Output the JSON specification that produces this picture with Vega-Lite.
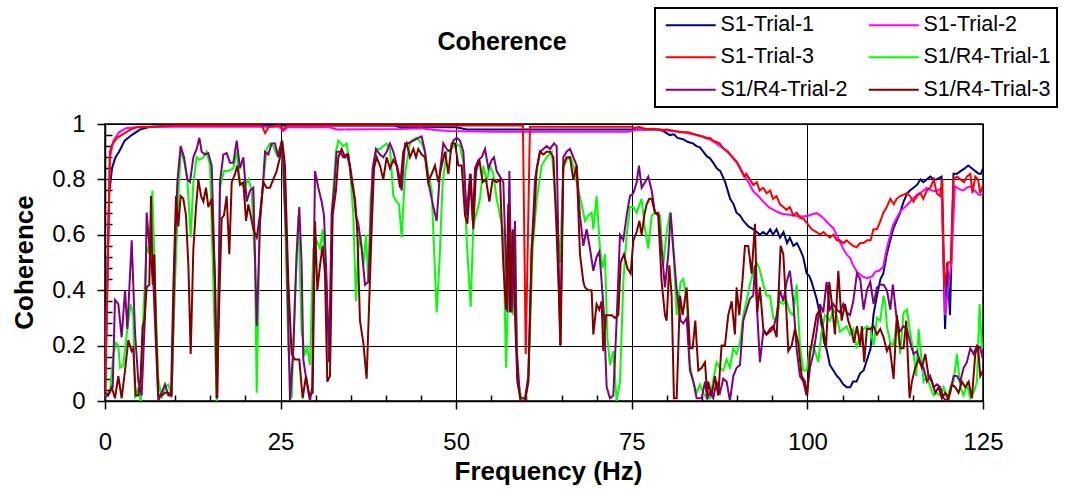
{
"$schema":"https://vega.github.io/schema/vega-lite/v6.json",
"width":878,"height":277,
"autosize":{"type":"none"},
"padding":{"left":105,"top":124,"right":83,"bottom":88},
"background":"white",
"title":{"text":"Coherence","font":"Liberation Sans","fontSize":25,"fontWeight":"bold","color":"black","anchor":"middle","frame":"group","dx":-42,"baseline":"alphabetic","offset":-68},
"config":{"view":{"stroke":"black","strokeWidth":1.5},"font":"Liberation Sans","legend":{"strokeWidth":2}},
"resolve":{"axis":{"x":"independent","y":"independent"}},
"layer":[
{"data":{"values":[{"f":0,"v":0.01},{"f":0.6,"v":0.75},{"f":1.0,"v":0.84},{"f":1.5,"v":0.88},{"f":2.0,"v":0.9},{"f":2.8,"v":0.94},{"f":3.8,"v":0.96},{"f":5,"v":0.98},{"f":6.4,"v":0.99},{"f":10,"v":0.993},{"f":20,"v":0.995},{"f":30,"v":0.995},{"f":41,"v":0.995},{"f":42,"v":0.988},{"f":50,"v":0.988},{"f":51.5,"v":0.98},{"f":60,"v":0.98},{"f":70,"v":0.98},{"f":79,"v":0.98},{"f":79.8,"v":0.97},{"f":80.4,"v":0.96},{"f":81,"v":0.963},{"f":81.5,"v":0.95},{"f":82.3,"v":0.945},{"f":83,"v":0.935},{"f":83.7,"v":0.93},{"f":84.2,"v":0.92},{"f":84.7,"v":0.916},{"f":85.7,"v":0.883},{"f":86.1,"v":0.877},{"f":86.6,"v":0.86},{"f":87.1,"v":0.84},{"f":87.6,"v":0.83},{"f":88.3,"v":0.79},{"f":89.0,"v":0.73},{"f":89.5,"v":0.71},{"f":89.9,"v":0.68},{"f":90.4,"v":0.67},{"f":90.9,"v":0.65},{"f":91.6,"v":0.63},{"f":92.3,"v":0.62},{"f":92.8,"v":0.61},{"f":93.2,"v":0.6},{"f":93.7,"v":0.61},{"f":94.2,"v":0.6},{"f":94.7,"v":0.62},{"f":95.1,"v":0.6},{"f":95.6,"v":0.62},{"f":96.1,"v":0.59},{"f":96.6,"v":0.61},{"f":97.1,"v":0.57},{"f":97.5,"v":0.59},{"f":98.0,"v":0.56},{"f":98.5,"v":0.57},{"f":98.9,"v":0.55},{"f":99.4,"v":0.52},{"f":99.9,"v":0.46},{"f":100.3,"v":0.45},{"f":100.6,"v":0.43},{"f":101.3,"v":0.37},{"f":101.8,"v":0.31},{"f":102.4,"v":0.21},{"f":102.7,"v":0.19},{"f":103.2,"v":0.13},{"f":103.7,"v":0.11},{"f":104.2,"v":0.09},{"f":104.6,"v":0.08},{"f":105.1,"v":0.06},{"f":105.6,"v":0.05},{"f":106.1,"v":0.05},{"f":106.5,"v":0.07},{"f":107.0,"v":0.07},{"f":107.5,"v":0.1},{"f":108.0,"v":0.11},{"f":108.5,"v":0.15},{"f":109.0,"v":0.19},{"f":109.4,"v":0.31},{"f":109.9,"v":0.38},{"f":110.4,"v":0.44},{"f":110.8,"v":0.46},{"f":111.3,"v":0.53},{"f":111.8,"v":0.58},{"f":112.2,"v":0.62},{"f":112.7,"v":0.65},{"f":113.2,"v":0.68},{"f":113.7,"v":0.72},{"f":114.2,"v":0.75},{"f":114.6,"v":0.76},{"f":115.1,"v":0.77},{"f":115.6,"v":0.78},{"f":116.1,"v":0.8},{"f":116.5,"v":0.79},{"f":117.0,"v":0.8},{"f":117.5,"v":0.81},{"f":118.0,"v":0.8},{"f":118.4,"v":0.8},{"f":119.1,"v":0.81},{"f":119.6,"v":0.26},{"f":119.9,"v":0.5},{"f":120.3,"v":0.31},{"f":120.8,"v":0.82},{"f":121.3,"v":0.82},{"f":121.8,"v":0.83},{"f":122.4,"v":0.84},{"f":122.9,"v":0.85},{"f":123.4,"v":0.84},{"f":123.9,"v":0.83},{"f":124.4,"v":0.82},{"f":124.7,"v":0.82},{"f":125,"v":0.84}]},
 "mark":{"type":"line","strokeWidth":2,"clip":true},
 "encoding":{
  "x":{"field":"f","type":"quantitative","scale":{"domain":[0,125],"nice":false,"zero":false},
   "axis":{"orient":"bottom","values":[0,25,50,75,100,125],"tickSize":8,"tickColor":"black","tickWidth":1.5,"domainColor":"black","domainWidth":1.5,"grid":true,"gridColor":"black","gridWidth":1,"gridOpacity":1,"labelFont":"Liberation Sans","labelFontSize":24,"labelColor":"black","labelPadding":21,"labelFlush":false,"labelOverlap":false,"title":"Frequency (Hz)","titleFont":"Liberation Sans","titleFontSize":26,"titleFontWeight":"bold","titleColor":"black","titleX":443,"titleY":78,"titleAlign":"center","titleBaseline":"alphabetic"}},
  "y":{"field":"v","type":"quantitative","scale":{"domain":[0,1],"nice":false},
   "axis":{"orient":"left","values":[0,0.2,0.4,0.6,0.8,1],"format":"~g","tickSize":8,"tickColor":"black","tickWidth":1.5,"domainColor":"black","domainWidth":1.5,"grid":true,"gridColor":"black","gridWidth":1,"gridOpacity":1,"labelFont":"Liberation Sans","labelFontSize":24,"labelColor":"black","labelPadding":12,"labelOverlap":false,"title":"Coherence","titleFont":"Liberation Sans","titleFontSize":26,"titleFontWeight":"bold","titleColor":"black","titleX":-73,"titleY":138,"titleAngle":-90,"titleAlign":"center","titleBaseline":"alphabetic"}},
  "color":{"datum":"S1-Trial-1","type":"nominal",
   "scale":{"domain":["S1-Trial-1","S1-Trial-2","S1-Trial-3","S1/R4-Trial-1","S1/R4-Trial-2","S1/R4-Trial-3"],"range":["#000080","#FF00FF","#FF0000","#00FF00","#800080","#800000"]},
   "legend":{"orient":"none","direction":"horizontal","legendX":550,"legendY":-116,"columns":2,"columnPadding":16,"rowPadding":9.5,"padding":6,"strokeColor":"black","fillColor":"white","cornerRadius":0,"symbolType":"M-1,0H9","symbolSize":100,"symbolStrokeWidth":2,"symbolOffset":-1,"labelFont":"Liberation Sans","labelFontSize":21.5,"labelColor":"black","labelOffset":39,"labelLimit":300,"title":null}}
 }},
{"data":{"values":[{"f":0,"v":0.02},{"f":0.7,"v":0.88},{"f":1.2,"v":0.94},{"f":2,"v":0.97},{"f":3,"v":0.985},{"f":5,"v":0.99},{"f":20,"v":0.99},{"f":24.8,"v":0.99},{"f":25.4,"v":0.975},{"f":26,"v":0.988},{"f":32,"v":0.988},{"f":33,"v":0.98},{"f":42,"v":0.982},{"f":45,"v":0.985},{"f":47,"v":0.978},{"f":49,"v":0.975},{"f":55,"v":0.972},{"f":65,"v":0.972},{"f":74.5,"v":0.972},{"f":75.7,"v":0.98},{"f":79,"v":0.98},{"f":81,"v":0.975},{"f":82.3,"v":0.97},{"f":84,"v":0.962},{"f":85.2,"v":0.955},{"f":86.1,"v":0.945},{"f":87,"v":0.93},{"f":88,"v":0.913},{"f":89,"v":0.89},{"f":89.9,"v":0.865},{"f":90.9,"v":0.82},{"f":91.6,"v":0.79},{"f":92.3,"v":0.757},{"f":93,"v":0.74},{"f":93.7,"v":0.72},{"f":94.5,"v":0.7},{"f":95.6,"v":0.684},{"f":96.5,"v":0.675},{"f":97.5,"v":0.672},{"f":98.5,"v":0.668},{"f":99.4,"v":0.666},{"f":100.2,"v":0.67},{"f":100.8,"v":0.675},{"f":101.3,"v":0.678},{"f":101.8,"v":0.67},{"f":102.3,"v":0.66},{"f":103,"v":0.64},{"f":103.7,"v":0.624},{"f":104.6,"v":0.576},{"f":105.1,"v":0.55},{"f":105.6,"v":0.528},{"f":106.1,"v":0.516},{"f":106.5,"v":0.49},{"f":107.05,"v":0.467},{"f":107.8,"v":0.45},{"f":108.5,"v":0.443},{"f":109.2,"v":0.45},{"f":109.7,"v":0.467},{"f":110.2,"v":0.47},{"f":110.8,"v":0.485},{"f":111.3,"v":0.552},{"f":111.8,"v":0.6},{"f":112.2,"v":0.636},{"f":112.7,"v":0.66},{"f":113.2,"v":0.684},{"f":114.2,"v":0.708},{"f":115.0,"v":0.73},{"f":115.6,"v":0.745},{"f":116.3,"v":0.755},{"f":117.0,"v":0.769},{"f":117.7,"v":0.76},{"f":118.4,"v":0.757},{"f":119.1,"v":0.769},{"f":119.6,"v":0.311},{"f":120.1,"v":0.42},{"f":120.5,"v":0.5},{"f":121.0,"v":0.775},{"f":121.6,"v":0.765},{"f":122.2,"v":0.76},{"f":122.7,"v":0.77},{"f":123.2,"v":0.775},{"f":123.8,"v":0.76},{"f":124.4,"v":0.745},{"f":125,"v":0.745}]},
 "mark":{"type":"line","strokeWidth":2,"clip":true},
 "encoding":{
  "x":{"field":"f","type":"quantitative","axis":{"orient":"bottom","values":[5,10,15,20,30,35,40,45,55,60,65,70,80,85,90,95,105,110,115,120],"tickSize":-6,"tickColor":"black","tickWidth":1.5,"labels":false,"domain":false,"grid":false,"title":null}},
  "y":{"field":"v","type":"quantitative","axis":{"orient":"left","values":[0.04,0.08,0.12,0.16,0.24,0.28,0.32,0.36,0.44,0.48,0.52,0.56,0.64,0.68,0.72,0.76,0.84,0.88,0.92,0.96],"tickSize":-7,"tickColor":"black","tickWidth":1.5,"labels":false,"domain":false,"grid":false,"title":null}},
  "color":{"datum":"S1-Trial-2","type":"nominal"}
 }},
{"data":{"values":[{"f":0,"v":0.01},{"f":0.7,"v":0.9},{"f":1.0,"v":0.925},{"f":1.7,"v":0.95},{"f":2.8,"v":0.967},{"f":3.6,"v":0.98},{"f":4.5,"v":0.988},{"f":6.9,"v":0.99},{"f":10,"v":0.995},{"f":22.3,"v":0.995},{"f":22.8,"v":0.967},{"f":23.3,"v":0.99},{"f":24.9,"v":0.995},{"f":25.4,"v":0.98},{"f":25.9,"v":0.995},{"f":59.5,"v":0.995},{"f":59.9,"v":0.17},{"f":60.5,"v":0.99},{"f":75,"v":0.99},{"f":75.5,"v":0.985},{"f":76,"v":0.99},{"f":77,"v":0.982},{"f":78,"v":0.983},{"f":79,"v":0.978},{"f":80,"v":0.98},{"f":81,"v":0.975},{"f":82,"v":0.97},{"f":83,"v":0.97},{"f":84,"v":0.962},{"f":85,"v":0.955},{"f":85.7,"v":0.947},{"f":86.1,"v":0.95},{"f":86.6,"v":0.94},{"f":87.5,"v":0.93},{"f":88,"v":0.913},{"f":88.7,"v":0.9},{"f":89.4,"v":0.877},{"f":90.0,"v":0.86},{"f":90.4,"v":0.84},{"f":91.0,"v":0.81},{"f":91.3,"v":0.82},{"f":91.8,"v":0.8},{"f":92.3,"v":0.78},{"f":92.8,"v":0.79},{"f":93.2,"v":0.76},{"f":93.7,"v":0.77},{"f":94.2,"v":0.75},{"f":94.7,"v":0.76},{"f":95.1,"v":0.73},{"f":95.6,"v":0.74},{"f":96.1,"v":0.71},{"f":96.6,"v":0.7},{"f":97.0,"v":0.69},{"f":97.5,"v":0.7},{"f":98.0,"v":0.67},{"f":98.5,"v":0.68},{"f":99.0,"v":0.66},{"f":99.4,"v":0.66},{"f":100.0,"v":0.64},{"f":100.6,"v":0.62},{"f":101.3,"v":0.61},{"f":101.8,"v":0.6},{"f":102.3,"v":0.61},{"f":102.7,"v":0.6},{"f":103.2,"v":0.59},{"f":103.7,"v":0.6},{"f":104.2,"v":0.58},{"f":104.6,"v":0.58},{"f":105.1,"v":0.57},{"f":105.6,"v":0.58},{"f":106.0,"v":0.57},{"f":106.5,"v":0.56},{"f":107.0,"v":0.555},{"f":107.5,"v":0.57},{"f":108.0,"v":0.57},{"f":108.5,"v":0.58},{"f":109.0,"v":0.58},{"f":109.4,"v":0.62},{"f":109.9,"v":0.62},{"f":110.4,"v":0.65},{"f":110.8,"v":0.68},{"f":111.3,"v":0.7},{"f":111.8,"v":0.73},{"f":112.3,"v":0.71},{"f":112.7,"v":0.73},{"f":113.2,"v":0.74},{"f":113.7,"v":0.745},{"f":114.2,"v":0.75},{"f":114.6,"v":0.74},{"f":115.1,"v":0.72},{"f":115.6,"v":0.74},{"f":116.1,"v":0.75},{"f":116.5,"v":0.73},{"f":117.0,"v":0.76},{"f":117.5,"v":0.77},{"f":118.0,"v":0.8},{"f":118.4,"v":0.75},{"f":118.9,"v":0.74},{"f":119.2,"v":0.8},{"f":119.5,"v":0.41},{"f":120.0,"v":0.5},{"f":120.4,"v":0.5},{"f":120.8,"v":0.8},{"f":121.3,"v":0.81},{"f":121.8,"v":0.8},{"f":122.3,"v":0.79},{"f":122.7,"v":0.81},{"f":123.2,"v":0.82},{"f":123.5,"v":0.75},{"f":123.9,"v":0.81},{"f":124.3,"v":0.8},{"f":124.6,"v":0.75},{"f":125,"v":0.78}]},
 "mark":{"type":"line","strokeWidth":2,"clip":true},
 "encoding":{"x":{"field":"f","type":"quantitative","axis":null},"y":{"field":"v","type":"quantitative","axis":null},"color":{"datum":"S1-Trial-3","type":"nominal"}}},
{"data":{"values":[{"f":0,"v":0.02},{"f":0.71,"v":0.03},{"f":1.19,"v":0.17},{"f":1.57,"v":0.21},{"f":1.9,"v":0.2},{"f":2.14,"v":0.12},{"f":2.61,"v":0.13},{"f":3.08,"v":0.24},{"f":3.65,"v":0.35},{"f":4.03,"v":0.31},{"f":4.27,"v":0.01},{"f":4.75,"v":0.05},{"f":5.08,"v":0},{"f":5.46,"v":0.31},{"f":5.93,"v":0.56},{"f":6.31,"v":0.53},{"f":6.74,"v":0.76},{"f":7.12,"v":0.43},{"f":7.59,"v":0.08},{"f":8.07,"v":0.01},{"f":8.54,"v":0.05},{"f":9.02,"v":0.06},{"f":9.49,"v":0.02},{"f":9.97,"v":0.43},{"f":10.44,"v":0.74},{"f":10.77,"v":0.9},{"f":11.25,"v":0.87},{"f":11.72,"v":0.8},{"f":12.2,"v":0.59},{"f":12.58,"v":0.79},{"f":13.05,"v":0.88},{"f":13.43,"v":0.87},{"f":14.0,"v":0.88},{"f":14.48,"v":0.9},{"f":14.95,"v":0.85},{"f":15.42,"v":0.43},{"f":15.9,"v":0},{"f":16.37,"v":0.77},{"f":16.94,"v":0.83},{"f":17.56,"v":0.83},{"f":18.27,"v":0.84},{"f":18.75,"v":0.9},{"f":19.22,"v":0.79},{"f":19.79,"v":0.77},{"f":20.41,"v":0.8},{"f":20.88,"v":0.76},{"f":21.36,"v":0.49},{"f":21.6,"v":0.03},{"f":22.06,"v":0.67},{"f":22.54,"v":0.79},{"f":23.01,"v":0.91},{"f":23.49,"v":0.93},{"f":23.96,"v":0.92},{"f":24.44,"v":0.89},{"f":25.15,"v":0.93},{"f":25.62,"v":0.67},{"f":26.1,"v":0.19},{"f":26.57,"v":0.01},{"f":27.05,"v":0.37},{"f":27.52,"v":0.67},{"f":27.99,"v":0.25},{"f":28.47,"v":0.17},{"f":28.8,"v":0.19},{"f":29.18,"v":0.13},{"f":29.66,"v":0.55},{"f":30.13,"v":0.58},{"f":30.61,"v":0.55},{"f":30.99,"v":0.62},{"f":31.46,"v":0.43},{"f":31.94,"v":0.19},{"f":32.41,"v":0.73},{"f":32.88,"v":0.9},{"f":33.22,"v":0.94},{"f":33.93,"v":0.92},{"f":34.4,"v":0.93},{"f":34.88,"v":0.84},{"f":35.35,"v":0.67},{"f":35.73,"v":0.36},{"f":36.06,"v":0.55},{"f":36.4,"v":0.6},{"f":36.78,"v":0.49},{"f":37.16,"v":0.6},{"f":37.49,"v":0.43},{"f":37.82,"v":0.73},{"f":38.2,"v":0.83},{"f":38.67,"v":0.91},{"f":39.15,"v":0.91},{"f":39.62,"v":0.92},{"f":40.1,"v":0.93},{"f":40.57,"v":0.91},{"f":41.05,"v":0.74},{"f":41.52,"v":0.72},{"f":41.86,"v":0.71},{"f":42.24,"v":0.59},{"f":42.71,"v":0.82},{"f":43.42,"v":0.93},{"f":43.66,"v":0.94},{"f":44.37,"v":0.95},{"f":45.08,"v":0.93},{"f":45.56,"v":0.9},{"f":46.03,"v":0.82},{"f":46.51,"v":0.76},{"f":46.84,"v":0.55},{"f":47.22,"v":0.32},{"f":47.6,"v":0.49},{"f":48.07,"v":0.79},{"f":48.64,"v":0.9},{"f":49.36,"v":0.91},{"f":49.97,"v":0.93},{"f":50.54,"v":0.92},{"f":51.11,"v":0.85},{"f":51.49,"v":0.58},{"f":52.06,"v":0.34},{"f":52.44,"v":0.64},{"f":52.92,"v":0.68},{"f":53.39,"v":0.73},{"f":53.87,"v":0.85},{"f":54.34,"v":0.79},{"f":54.81,"v":0.85},{"f":55.29,"v":0.82},{"f":55.76,"v":0.73},{"f":56.24,"v":0.67},{"f":56.71,"v":0.61},{"f":57.09,"v":0.12},{"f":57.42,"v":0.43},{"f":57.76,"v":0.61},{"f":58.04,"v":0.31},{"f":58.37,"v":0.58},{"f":58.71,"v":0.09},{"f":59.18,"v":0.02},{"f":59.8,"v":0},{"f":60.27,"v":0.07},{"f":60.89,"v":0.55},{"f":61.46,"v":0.73},{"f":62.17,"v":0.85},{"f":62.88,"v":0.88},{"f":63.6,"v":0.9},{"f":63.83,"v":0.83},{"f":64.3,"v":0.67},{"f":64.77,"v":0.5},{"f":65.25,"v":0.84},{"f":65.72,"v":0.87},{"f":66.29,"v":0.88},{"f":66.77,"v":0.84},{"f":67.38,"v":0.76},{"f":67.86,"v":0.71},{"f":68.33,"v":0.65},{"f":68.81,"v":0.67},{"f":69.28,"v":0.68},{"f":69.52,"v":0.62},{"f":69.99,"v":0.74},{"f":70.47,"v":0.55},{"f":70.85,"v":0.48},{"f":71.18,"v":0.53},{"f":71.51,"v":0.23},{"f":71.89,"v":0.13},{"f":72.37,"v":0.18},{"f":72.84,"v":0},{"f":73.32,"v":0.07},{"f":73.79,"v":0.43},{"f":74.27,"v":0.6},{"f":74.74,"v":0.7},{"f":75.22,"v":0.7},{"f":75.69,"v":0.68},{"f":76.4,"v":0.73},{"f":76.88,"v":0.62},{"f":77.35,"v":0.55},{"f":77.83,"v":0.67},{"f":78.44,"v":0.68},{"f":79.01,"v":0.67},{"f":79.49,"v":0.49},{"f":79.96,"v":0.61},{"f":80.44,"v":0.68},{"f":80.91,"v":0.55},{"f":81.39,"v":0.31},{"f":81.95,"v":0.43},{"f":82.33,"v":0.44},{"f":82.81,"v":0.36},{"f":83.28,"v":0.13},{"f":83.76,"v":0.07},{"f":84.23,"v":0.03},{"f":84.71,"v":0.06},{"f":85.18,"v":0.03},{"f":85.66,"v":0.01},{"f":86.12,"v":0.01},{"f":87.07,"v":0.14},{"f":87.55,"v":0.12},{"f":88.02,"v":0.11},{"f":88.5,"v":0.15},{"f":88.97,"v":0.12},{"f":89.45,"v":0.19},{"f":89.92,"v":0.17},{"f":90.4,"v":0.21},{"f":90.87,"v":0.31},{"f":91.34,"v":0.36},{"f":91.72,"v":0.41},{"f":92.29,"v":0.47},{"f":92.77,"v":0.5},{"f":93.15,"v":0.48},{"f":93.72,"v":0.42},{"f":94.19,"v":0.38},{"f":94.67,"v":0.38},{"f":95.14,"v":0.3},{"f":95.62,"v":0.29},{"f":96.09,"v":0.36},{"f":96.57,"v":0.35},{"f":97.04,"v":0.36},{"f":97.51,"v":0.32},{"f":97.99,"v":0.31},{"f":98.46,"v":0.42},{"f":98.94,"v":0.2},{"f":99.41,"v":0.11},{"f":99.89,"v":0.11},{"f":100.36,"v":0.19},{"f":100.84,"v":0.2},{"f":101.55,"v":0.14},{"f":102.02,"v":0.25},{"f":102.5,"v":0.31},{"f":103.21,"v":0.29},{"f":103.68,"v":0.33},{"f":104.16,"v":0.31},{"f":104.63,"v":0.25},{"f":105.11,"v":0.26},{"f":105.58,"v":0.27},{"f":106.06,"v":0.24},{"f":106.53,"v":0.26},{"f":107.01,"v":0.19},{"f":107.52,"v":0.24},{"f":108.0,"v":0.26},{"f":108.47,"v":0.27},{"f":108.95,"v":0.26},{"f":109.42,"v":0.2},{"f":109.9,"v":0.3},{"f":110.37,"v":0.29},{"f":110.85,"v":0.38},{"f":111.08,"v":0.35},{"f":111.32,"v":0.27},{"f":111.8,"v":0.21},{"f":112.27,"v":0.2},{"f":112.74,"v":0.29},{"f":113.22,"v":0.17},{"f":113.69,"v":0.32},{"f":114.17,"v":0.33},{"f":114.55,"v":0.26},{"f":115.02,"v":0.19},{"f":115.5,"v":0.09},{"f":115.83,"v":0.26},{"f":116.16,"v":0.17},{"f":116.54,"v":0.07},{"f":117.02,"v":0.09},{"f":117.49,"v":0.05},{"f":117.97,"v":0.02},{"f":118.44,"v":0.03},{"f":118.91,"v":0.02},{"f":119.39,"v":0.05},{"f":119.86,"v":0.01},{"f":120.34,"v":0.05},{"f":120.81,"v":0.07},{"f":121.29,"v":0.17},{"f":121.76,"v":0.05},{"f":122.24,"v":0.02},{"f":122.71,"v":0.06},{"f":123.19,"v":0.01},{"f":123.66,"v":0.03},{"f":124.14,"v":0.07},{"f":124.51,"v":0.35},{"f":124.85,"v":0.19},{"f":125,"v":0.21}]},
 "mark":{"type":"line","strokeWidth":2,"clip":true},
 "encoding":{"x":{"field":"f","type":"quantitative","axis":null},"y":{"field":"v","type":"quantitative","axis":null},"color":{"datum":"S1/R4-Trial-1","type":"nominal"}}},
{"data":{"values":[{"f":0,"v":0.01},{"f":1.1,"v":0.05},{"f":1.42,"v":0.365},{"f":1.9,"v":0.35},{"f":2.37,"v":0.23},{"f":2.85,"v":0.4},{"f":3.18,"v":0.26},{"f":3.8,"v":0.58},{"f":4.27,"v":0.25},{"f":4.75,"v":0.07},{"f":5.22,"v":0.02},{"f":5.7,"v":0.31},{"f":5.93,"v":0.68},{"f":6.41,"v":0.53},{"f":6.88,"v":0.43},{"f":7.59,"v":0},{"f":8.07,"v":0.03},{"f":8.54,"v":0.06},{"f":9.02,"v":0.02},{"f":9.49,"v":0.02},{"f":9.97,"v":0.55},{"f":10.3,"v":0.79},{"f":10.77,"v":0.92},{"f":11.25,"v":0.88},{"f":11.72,"v":0.8},{"f":12.1,"v":0.79},{"f":12.58,"v":0.88},{"f":13.05,"v":0.91},{"f":13.43,"v":0.95},{"f":13.76,"v":0.9},{"f":14.24,"v":0.89},{"f":14.71,"v":0.895},{"f":15.19,"v":0.85},{"f":15.66,"v":0.43},{"f":16.0,"v":0.01},{"f":16.37,"v":0.79},{"f":16.85,"v":0.89},{"f":17.32,"v":0.895},{"f":17.8,"v":0.86},{"f":18.27,"v":0.86},{"f":18.75,"v":0.94},{"f":19.22,"v":0.84},{"f":19.7,"v":0.88},{"f":20.17,"v":0.72},{"f":20.65,"v":0.76},{"f":21.12,"v":0.77},{"f":21.6,"v":0.27},{"f":22.06,"v":0.64},{"f":22.54,"v":0.8},{"f":22.78,"v":0.9},{"f":23.25,"v":0.89},{"f":23.72,"v":0.93},{"f":24.2,"v":0.93},{"f":24.67,"v":0.88},{"f":25.15,"v":0.94},{"f":25.39,"v":0.85},{"f":25.86,"v":0.55},{"f":26.34,"v":0},{"f":26.81,"v":0.19},{"f":27.28,"v":0.53},{"f":27.66,"v":0.7},{"f":28.0,"v":0.49},{"f":28.23,"v":0.15},{"f":28.71,"v":0.07},{"f":29.18,"v":0},{"f":29.5,"v":0.05},{"f":29.9,"v":0.83},{"f":30.37,"v":0.77},{"f":30.84,"v":0.72},{"f":31.18,"v":0.67},{"f":31.56,"v":0.43},{"f":31.89,"v":0.14},{"f":32.27,"v":0.68},{"f":32.6,"v":0.76},{"f":32.98,"v":0.9},{"f":33.45,"v":0.9},{"f":33.93,"v":0.88},{"f":34.4,"v":0.89},{"f":34.88,"v":0.85},{"f":35.35,"v":0.77},{"f":35.73,"v":0.67},{"f":36.06,"v":0.64},{"f":36.54,"v":0.55},{"f":37.01,"v":0.42},{"f":37.49,"v":0.43},{"f":37.73,"v":0.58},{"f":38.1,"v":0.84},{"f":38.58,"v":0.91},{"f":39.15,"v":0.89},{"f":39.62,"v":0.88},{"f":40.1,"v":0.9},{"f":40.57,"v":0.93},{"f":41.05,"v":0.9},{"f":41.76,"v":0.83},{"f":42.24,"v":0.76},{"f":42.71,"v":0.93},{"f":43.19,"v":0.93},{"f":43.9,"v":0.94},{"f":44.61,"v":0.95},{"f":45.08,"v":0.955},{"f":45.56,"v":0.9},{"f":46.03,"v":0.79},{"f":46.75,"v":0.7},{"f":47.22,"v":0.65},{"f":47.7,"v":0.83},{"f":48.17,"v":0.93},{"f":48.64,"v":0.91},{"f":49.12,"v":0.9},{"f":49.59,"v":0.94},{"f":50.07,"v":0.95},{"f":50.54,"v":0.94},{"f":51.02,"v":0.9},{"f":51.49,"v":0.67},{"f":51.97,"v":0.82},{"f":52.35,"v":0.65},{"f":52.68,"v":0.84},{"f":53.15,"v":0.87},{"f":53.63,"v":0.88},{"f":54.1,"v":0.91},{"f":54.58,"v":0.84},{"f":55.05,"v":0.87},{"f":55.38,"v":0.88},{"f":55.76,"v":0.83},{"f":56.24,"v":0.81},{"f":56.71,"v":0.79},{"f":57.09,"v":0.49},{"f":57.28,"v":0.32},{"f":57.57,"v":0.83},{"f":57.9,"v":0.32},{"f":58.37,"v":0.65},{"f":58.61,"v":0.19},{"f":59.09,"v":0.01},{"f":59.8,"v":0.01},{"f":60.27,"v":0.09},{"f":60.75,"v":0.55},{"f":61.22,"v":0.8},{"f":61.93,"v":0.9},{"f":62.41,"v":0.91},{"f":62.88,"v":0.92},{"f":63.36,"v":0.91},{"f":63.93,"v":0.93},{"f":64.3,"v":0.92},{"f":64.8,"v":0.2},{"f":65.25,"v":0.88},{"f":65.72,"v":0.9},{"f":66.2,"v":0.91},{"f":66.67,"v":0.88},{"f":67.15,"v":0.85},{"f":67.62,"v":0.67},{"f":68.1,"v":0.56},{"f":68.57,"v":0.62},{"f":69.05,"v":0.55},{"f":69.52,"v":0.47},{"f":69.99,"v":0.52},{"f":70.37,"v":0.54},{"f":70.71,"v":0.43},{"f":71.04,"v":0.31},{"f":71.42,"v":0.05},{"f":71.89,"v":0.01},{"f":72.37,"v":0.02},{"f":72.84,"v":0.29},{"f":73.32,"v":0.6},{"f":73.79,"v":0.58},{"f":74.27,"v":0.67},{"f":74.74,"v":0.74},{"f":75.22,"v":0.75},{"f":75.69,"v":0.79},{"f":76.02,"v":0.85},{"f":76.4,"v":0.77},{"f":76.88,"v":0.79},{"f":77.35,"v":0.81},{"f":77.83,"v":0.76},{"f":78.3,"v":0.68},{"f":78.77,"v":0.68},{"f":79.25,"v":0.55},{"f":79.72,"v":0.41},{"f":80.2,"v":0.53},{"f":80.53,"v":0.68},{"f":80.91,"v":0.55},{"f":81.39,"v":0.4},{"f":81.95,"v":0.29},{"f":82.33,"v":0.28},{"f":82.81,"v":0.3},{"f":83.28,"v":0.11},{"f":83.76,"v":0.07},{"f":84.23,"v":0.01},{"f":84.95,"v":0.01},{"f":85.42,"v":0.07},{"f":85.75,"v":0.01},{"f":86.1,"v":0.03},{"f":86.6,"v":0.01},{"f":87.07,"v":0.07},{"f":87.55,"v":0.03},{"f":88.02,"v":0.08},{"f":88.5,"v":0.07},{"f":88.97,"v":0},{"f":89.45,"v":0.09},{"f":89.92,"v":0.12},{"f":90.4,"v":0.13},{"f":90.87,"v":0.29},{"f":91.34,"v":0.33},{"f":91.82,"v":0.37},{"f":92.29,"v":0.38},{"f":92.53,"v":0.49},{"f":92.77,"v":0.36},{"f":93.24,"v":0.14},{"f":93.72,"v":0.25},{"f":94.19,"v":0.24},{"f":94.67,"v":0.25},{"f":95.14,"v":0.26},{"f":95.62,"v":0.31},{"f":96.09,"v":0.4},{"f":96.57,"v":0.36},{"f":97.04,"v":0.43},{"f":97.51,"v":0.47},{"f":97.99,"v":0.36},{"f":98.46,"v":0.19},{"f":98.94,"v":0.09},{"f":99.41,"v":0.07},{"f":99.89,"v":0.02},{"f":100.36,"v":0.12},{"f":100.84,"v":0.17},{"f":101.31,"v":0.25},{"f":101.79,"v":0.35},{"f":102.26,"v":0.32},{"f":102.73,"v":0.43},{"f":103.21,"v":0.33},{"f":103.68,"v":0.35},{"f":104.16,"v":0.33},{"f":104.63,"v":0.32},{"f":105.11,"v":0.35},{"f":105.58,"v":0.32},{"f":106.06,"v":0.31},{"f":106.53,"v":0.36},{"f":107.05,"v":0.46},{"f":107.52,"v":0.44},{"f":108.0,"v":0.33},{"f":108.47,"v":0.4},{"f":108.95,"v":0.43},{"f":109.42,"v":0.35},{"f":109.9,"v":0.41},{"f":110.37,"v":0.42},{"f":110.85,"v":0.42},{"f":111.32,"v":0.4},{"f":111.8,"v":0.33},{"f":112.17,"v":0.42},{"f":112.65,"v":0.31},{"f":113.12,"v":0.25},{"f":113.69,"v":0.27},{"f":114.17,"v":0.26},{"f":114.64,"v":0.21},{"f":115.12,"v":0.17},{"f":115.59,"v":0.18},{"f":116.07,"v":0.14},{"f":116.54,"v":0.12},{"f":117.02,"v":0.07},{"f":117.49,"v":0.09},{"f":117.97,"v":0.05},{"f":118.44,"v":0.06},{"f":118.91,"v":0.05},{"f":119.39,"v":0.01},{"f":119.86,"v":0},{"f":120.34,"v":0.03},{"f":120.81,"v":0.09},{"f":121.29,"v":0.09},{"f":121.76,"v":0.07},{"f":122.24,"v":0.12},{"f":122.71,"v":0.14},{"f":123.19,"v":0.19},{"f":123.66,"v":0.17},{"f":124.14,"v":0.2},{"f":124.61,"v":0.19},{"f":125,"v":0.15}]},
 "mark":{"type":"line","strokeWidth":2,"clip":true},
 "encoding":{"x":{"field":"f","type":"quantitative","axis":null},"y":{"field":"v","type":"quantitative","axis":null},"color":{"datum":"S1/R4-Trial-2","type":"nominal"}}},
{"data":{"values":[{"f":0,"v":0.03},{"f":0.47,"v":0.02},{"f":0.95,"v":0.05},{"f":1.42,"v":0.01},{"f":1.9,"v":0.09},{"f":2.37,"v":0.01},{"f":2.85,"v":0.11},{"f":3.32,"v":0.22},{"f":3.8,"v":0.18},{"f":4.03,"v":0.19},{"f":4.37,"v":0.02},{"f":4.75,"v":0.02},{"f":5.08,"v":0.09},{"f":5.36,"v":0.27},{"f":5.6,"v":0.29},{"f":5.93,"v":0.41},{"f":6.31,"v":0.42},{"f":6.55,"v":0.74},{"f":6.79,"v":0.42},{"f":7.02,"v":0.53},{"f":7.26,"v":0.26},{"f":7.59,"v":0.02},{"f":8.07,"v":0.02},{"f":8.54,"v":0.03},{"f":9.02,"v":0.03},{"f":9.4,"v":0.02},{"f":9.73,"v":0.41},{"f":10.11,"v":0.74},{"f":10.44,"v":0.63},{"f":10.77,"v":0.74},{"f":11.15,"v":0.73},{"f":11.53,"v":0.67},{"f":11.87,"v":0.49},{"f":12.2,"v":0.17},{"f":12.58,"v":0.55},{"f":12.96,"v":0.7},{"f":13.29,"v":0.8},{"f":13.67,"v":0.74},{"f":14.0,"v":0.72},{"f":14.38,"v":0.77},{"f":14.71,"v":0.7},{"f":15.19,"v":0.73},{"f":15.66,"v":0.43},{"f":15.9,"v":0.01},{"f":16.28,"v":0.37},{"f":16.61,"v":0.66},{"f":16.94,"v":0.67},{"f":17.32,"v":0.74},{"f":17.7,"v":0.53},{"f":18.04,"v":0.79},{"f":18.51,"v":0.82},{"f":18.84,"v":0.85},{"f":19.22,"v":0.78},{"f":19.7,"v":0.79},{"f":20.08,"v":0.65},{"f":20.41,"v":0.71},{"f":20.74,"v":0.67},{"f":21.12,"v":0.62},{"f":21.6,"v":0.59},{"f":22.06,"v":0.67},{"f":22.54,"v":0.79},{"f":23.01,"v":0.77},{"f":23.49,"v":0.77},{"f":23.96,"v":0.8},{"f":24.44,"v":0.83},{"f":24.91,"v":0.88},{"f":25.24,"v":0.94},{"f":25.62,"v":0.85},{"f":26.1,"v":0.43},{"f":26.57,"v":0.17},{"f":27.05,"v":0.15},{"f":27.66,"v":0.15},{"f":28.14,"v":0.01},{"f":28.61,"v":0.09},{"f":29.09,"v":0.02},{"f":29.56,"v":0.03},{"f":29.9,"v":0.65},{"f":30.23,"v":0.4},{"f":30.61,"v":0.49},{"f":30.99,"v":0.56},{"f":31.32,"v":0.46},{"f":31.65,"v":0.07},{"f":32.03,"v":0.09},{"f":32.41,"v":0.67},{"f":32.88,"v":0.76},{"f":33.22,"v":0.88},{"f":33.69,"v":0.91},{"f":34.17,"v":0.88},{"f":34.64,"v":0.89},{"f":35.12,"v":0.79},{"f":35.59,"v":0.73},{"f":35.92,"v":0.61},{"f":36.3,"v":0.29},{"f":36.78,"v":0.21},{"f":37.25,"v":0.08},{"f":37.63,"v":0.37},{"f":37.96,"v":0.62},{"f":38.3,"v":0.84},{"f":38.67,"v":0.88},{"f":39.15,"v":0.85},{"f":39.62,"v":0.8},{"f":40.1,"v":0.88},{"f":40.57,"v":0.84},{"f":41.05,"v":0.87},{"f":41.52,"v":0.85},{"f":42.0,"v":0.77},{"f":42.47,"v":0.9},{"f":42.95,"v":0.93},{"f":43.42,"v":0.88},{"f":43.9,"v":0.91},{"f":44.28,"v":0.88},{"f":44.61,"v":0.91},{"f":45.08,"v":0.89},{"f":45.56,"v":0.88},{"f":46.03,"v":0.79},{"f":46.51,"v":0.82},{"f":46.98,"v":0.85},{"f":47.46,"v":0.79},{"f":47.93,"v":0.85},{"f":48.41,"v":0.9},{"f":48.88,"v":0.82},{"f":49.36,"v":0.93},{"f":49.83,"v":0.93},{"f":50.31,"v":0.85},{"f":50.78,"v":0.85},{"f":51.25,"v":0.67},{"f":51.59,"v":0.64},{"f":52.06,"v":0.82},{"f":52.44,"v":0.62},{"f":52.82,"v":0.83},{"f":53.3,"v":0.87},{"f":53.77,"v":0.79},{"f":54.24,"v":0.8},{"f":54.72,"v":0.72},{"f":55.19,"v":0.8},{"f":55.76,"v":0.79},{"f":56.24,"v":0.8},{"f":56.71,"v":0.49},{"f":57.09,"v":0.33},{"f":57.42,"v":0.71},{"f":57.66,"v":0.32},{"f":58.04,"v":0.62},{"f":58.37,"v":0.31},{"f":58.71,"v":0.07},{"f":59.18,"v":0},{"f":59.8,"v":0},{"f":60.27,"v":0.07},{"f":60.75,"v":0.55},{"f":61.08,"v":0.65},{"f":61.46,"v":0.84},{"f":61.93,"v":0.9},{"f":62.41,"v":0.89},{"f":62.88,"v":0.9},{"f":63.36,"v":0.9},{"f":63.83,"v":0.88},{"f":64.3,"v":0.61},{"f":64.87,"v":0.2},{"f":65.25,"v":0.85},{"f":65.72,"v":0.88},{"f":66.2,"v":0.88},{"f":66.67,"v":0.8},{"f":67.15,"v":0.85},{"f":67.62,"v":0.53},{"f":68.1,"v":0.43},{"f":68.33,"v":0.41},{"f":68.81,"v":0.4},{"f":69.28,"v":0.4},{"f":69.52,"v":0.24},{"f":69.99,"v":0.35},{"f":70.37,"v":0.33},{"f":70.71,"v":0.36},{"f":70.94,"v":0.18},{"f":71.32,"v":0.31},{"f":71.66,"v":0.31},{"f":72.13,"v":0.31},{"f":72.6,"v":0.3},{"f":73.08,"v":0.31},{"f":73.41,"v":0.5},{"f":73.89,"v":0.53},{"f":74.36,"v":0.48},{"f":74.84,"v":0.46},{"f":75.22,"v":0.58},{"f":75.69,"v":0.61},{"f":76.07,"v":0.65},{"f":76.4,"v":0.6},{"f":76.78,"v":0.67},{"f":77.11,"v":0.71},{"f":77.49,"v":0.73},{"f":77.83,"v":0.73},{"f":78.3,"v":0.68},{"f":78.77,"v":0.67},{"f":79.25,"v":0.43},{"f":79.72,"v":0.31},{"f":79.96,"v":0.29},{"f":80.34,"v":0.49},{"f":80.67,"v":0.38},{"f":81.0,"v":0.01},{"f":81.39,"v":0.01},{"f":81.86,"v":0.38},{"f":82.24,"v":0.31},{"f":82.81,"v":0.41},{"f":83.28,"v":0.19},{"f":83.66,"v":0.19},{"f":84.04,"v":0.29},{"f":84.47,"v":0.11},{"f":84.95,"v":0.12},{"f":85.42,"v":0.14},{"f":85.75,"v":0.02},{"f":85.89,"v":0.07},{"f":86.36,"v":0.02},{"f":86.84,"v":0.09},{"f":87.31,"v":0.02},{"f":87.78,"v":0.2},{"f":88.26,"v":0.2},{"f":88.73,"v":0.31},{"f":89.21,"v":0.36},{"f":89.68,"v":0.24},{"f":89.92,"v":0.41},{"f":90.3,"v":0.31},{"f":90.77,"v":0.44},{"f":91.11,"v":0.56},{"f":91.58,"v":0.56},{"f":92.06,"v":0.46},{"f":92.53,"v":0.64},{"f":92.86,"v":0.32},{"f":93.24,"v":0.41},{"f":93.72,"v":0.26},{"f":94.19,"v":0.24},{"f":94.67,"v":0.26},{"f":95.14,"v":0.27},{"f":95.62,"v":0.23},{"f":96.19,"v":0.56},{"f":96.57,"v":0.53},{"f":96.94,"v":0.36},{"f":97.28,"v":0.18},{"f":97.75,"v":0.2},{"f":98.23,"v":0.26},{"f":98.7,"v":0.21},{"f":99.18,"v":0.09},{"f":99.65,"v":0.07},{"f":99.98,"v":0.02},{"f":100.36,"v":0.17},{"f":100.84,"v":0.24},{"f":101.31,"v":0.31},{"f":101.79,"v":0.33},{"f":102.26,"v":0.26},{"f":102.64,"v":0.19},{"f":103.11,"v":0.43},{"f":103.45,"v":0.36},{"f":103.92,"v":0.24},{"f":104.4,"v":0.47},{"f":104.87,"v":0.29},{"f":105.35,"v":0.35},{"f":105.82,"v":0.29},{"f":106.3,"v":0.25},{"f":106.63,"v":0.21},{"f":107.05,"v":0.27},{"f":107.52,"v":0.2},{"f":107.76,"v":0.27},{"f":108.09,"v":0.14},{"f":108.47,"v":0.26},{"f":108.95,"v":0.26},{"f":109.42,"v":0.27},{"f":109.9,"v":0.24},{"f":110.37,"v":0.26},{"f":110.85,"v":0.23},{"f":111.32,"v":0.18},{"f":111.7,"v":0.2},{"f":112.03,"v":0.13},{"f":112.27,"v":0.08},{"f":112.74,"v":0.31},{"f":113.22,"v":0.19},{"f":113.69,"v":0.19},{"f":114.07,"v":0.29},{"f":114.55,"v":0.01},{"f":114.88,"v":0.07},{"f":115.35,"v":0.12},{"f":115.83,"v":0.15},{"f":116.3,"v":0.12},{"f":116.78,"v":0.17},{"f":117.25,"v":0.09},{"f":117.73,"v":0.07},{"f":118.2,"v":0.03},{"f":118.68,"v":0.05},{"f":119.15,"v":0.01},{"f":119.63,"v":0.03},{"f":120.1,"v":0.01},{"f":120.58,"v":0.06},{"f":121.05,"v":0.05},{"f":121.52,"v":0.03},{"f":122.0,"v":0.07},{"f":122.47,"v":0.05},{"f":122.95,"v":0.07},{"f":123.42,"v":0.01},{"f":123.9,"v":0.17},{"f":124.28,"v":0.2},{"f":124.61,"v":0.09},{"f":125,"v":0.11}]},
 "mark":{"type":"line","strokeWidth":2,"clip":true},
 "encoding":{"x":{"field":"f","type":"quantitative","axis":null},"y":{"field":"v","type":"quantitative","axis":null},"color":{"datum":"S1/R4-Trial-3","type":"nominal"}}}
]
}
